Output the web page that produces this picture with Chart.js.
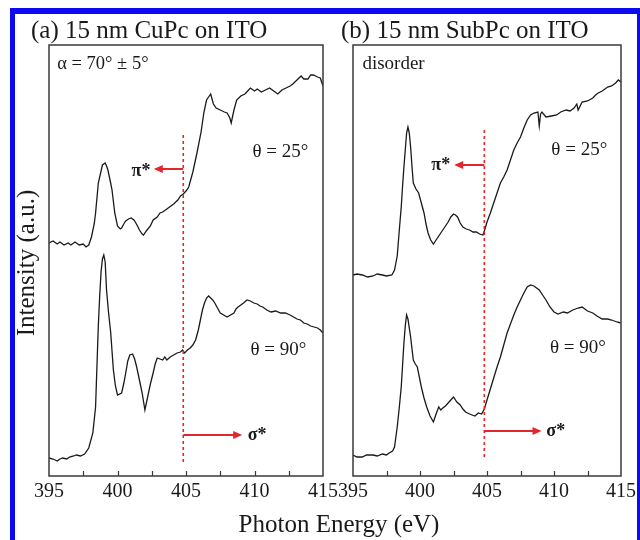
<!DOCTYPE html>
<html>
<head>
<meta charset="utf-8">
<script src="https://cdn.jsdelivr.net/npm/chart.js@4.4.1/dist/chart.umd.min.js"></script>
<style>
  body { margin: 0; background: #fff; }
  #frame {
    position: absolute; left: 10px; top: 8px; width: 622px; height: 540px;
    border-left: 5px solid #0b0bf2; border-top: 6px solid #0b0bf2; border-right: 3px solid #0b0bf2;
  }
  canvas { position: absolute; left: 0; top: 0; }
</style>
</head>
<body>
<div id="frame"></div>
<canvas id="chartA" width="640" height="540"></canvas>
<canvas id="chartB" width="640" height="540"></canvas>
<script>
// x axis (photon energy, eV)
const xTickValues = [395, 400, 405, 410, 415];
const minorStep = 2.5;
const edgeEnergy = 404.8;

// (a) CuPc, theta = 25 deg
const cupcE25 = [395.0,395.3,395.6,395.8,396.1,396.4,396.6,396.9,397.2,397.5,397.7,397.9,398.1,398.3,398.4,398.6,398.8,398.9,399.1,399.2,399.3,399.5,399.6,399.8,400.0,400.2,400.3,400.5,400.6,400.8,401.0,401.2,401.3,401.5,401.6,401.8,401.9,402.1,402.4,402.6,402.9,403.1,403.3,403.6,403.8,404.1,404.4,404.6,404.8,405.0,405.2,405.5,405.8,406.1,406.3,406.5,406.7,406.8,407.0,407.2,407.5,407.8,408.0,408.2,408.3,408.5,408.7,409.0,409.3,409.5,409.7,410.0,410.2,410.5,410.8,411.1,411.4,411.7,412.0,412.3,412.6,412.8,413.1,413.4,413.6,413.9,414.1,414.3,414.6,414.8,415.0];
const cupcI25 = [233,235,232,234,231,233,231,234,231,232,229,231,239,252,263,293,305,311,313,310,306,293,286,263,250,247,248,253,255,257,258,256,254,249,246,242,241,245,250,256,259,263,264,267,269,272,276,280,282,285,289,304,323,344,363,376,380,382,372,368,366,364,363,358,353,366,376,380,382,385,388,385,387,384,386,388,385,382,386,388,390,392,396,400,397,397,401,401,399,398,390];

// (a) CuPc, theta = 90 deg
const cupcE90 = [395.0,395.3,395.6,395.8,396.0,396.3,396.5,396.8,397.0,397.3,397.6,397.9,398.2,398.4,398.5,398.6,398.7,398.8,398.9,399.0,399.1,399.2,399.35,399.5,399.7,399.85,400.0,400.3,400.45,400.6,400.75,400.9,401.1,401.25,401.4,401.6,401.8,402.0,402.2,402.4,402.6,402.75,402.9,403.1,403.3,403.45,403.6,403.85,404.1,404.35,404.6,404.75,404.9,405.1,405.3,405.5,405.7,405.9,406.05,406.2,406.35,406.5,406.65,406.8,406.95,407.1,407.3,407.5,407.75,408.0,408.25,408.5,408.65,408.8,409.0,409.2,409.45,409.7,409.95,410.2,410.4,410.6,410.9,411.2,411.55,411.9,412.25,412.6,412.85,413.1,413.35,413.6,413.85,414.1,414.35,414.6,414.8,415.0];
const cupcI90 = [18,17,15,17,18,17,19,20,21,20,22,28,43,69,110,150,180,204,217,221,214,186,163,144,106,90,81,83,92,103,115,121,122,117,109,96,83,66,79,92,103,112,118,117,116,119,116,119,121,123,124,126,123,126,128,131,136,146,156,166,173,178,180,178,176,173,168,163,161,159,161,163,167,169,171,173,176,175,173,172,170,169,166,164,165,163,163,161,159,157,156,153,152,150,149,148,146,143];

// (b) SubPc, theta = 25 deg
const subpcE25 = [395.0,395.3,395.7,396.1,396.5,396.8,397.2,397.5,397.9,398.1,398.3,398.45,398.6,398.7,398.8,399.0,399.1,399.2,399.3,399.4,399.5,399.7,399.9,400.1,400.3,400.45,400.6,400.8,401.0,401.2,401.4,401.6,401.85,402.1,402.3,402.5,402.65,402.8,403.0,403.2,403.45,403.7,403.95,404.2,404.45,404.7,404.85,405.0,405.25,405.5,405.75,406.0,406.25,406.5,406.75,407.0,407.25,407.5,407.75,408.0,408.25,408.5,408.8,408.9,409.0,409.1,409.4,409.8,410.2,410.5,410.9,411.2,411.5,411.7,411.8,412.1,412.5,412.9,413.1,413.3,413.6,414.0,414.3,414.6,414.8,415.0];
const subpcI25 = [201,202,201,199,200,202,201,200,201,206,220,245,269,290,309,343,349,343,329,310,293,287,283,273,263,252,243,236,232,236,240,244,249,254,259,262,261,259,253,249,247,246,244,244,242,241,247,254,263,273,283,293,299,306,316,326,333,339,348,356,361,363,364,350,362,364,359,360,361,364,366,365,368,372,366,374,375,378,381,383,385,389,390,393,396,394];

// (b) SubPc, theta = 90 deg
const subpcE90 = [395.0,395.3,395.7,396.0,396.5,396.8,397.2,397.5,397.7,397.95,398.1,398.3,398.45,398.6,398.7,398.8,398.9,399.0,399.1,399.3,399.5,399.65,399.8,400.1,400.3,400.5,400.75,401.0,401.2,401.4,401.55,401.7,401.9,402.1,402.3,402.5,402.75,403.0,403.2,403.4,403.7,404.1,404.35,404.6,404.8,405.0,405.25,405.5,405.75,406.0,406.25,406.5,406.75,407.0,407.25,407.5,407.75,408.0,408.25,408.5,408.7,408.9,409.15,409.4,409.7,410.0,410.3,410.7,411.0,411.4,411.8,412.1,412.5,412.9,413.2,413.6,414.0,414.3,414.7,415.0];
const subpcI90 = [21,19,19,21,21,20,22,21,23,25,29,49,68,89,111,133,150,161,157,139,116,112,109,89,78,69,60,54,62,69,66,68,70,73,76,79,74,71,67,64,62,60,63,62,67,76,87,98,109,119,131,143,152,161,169,176,183,189,191,190,188,186,181,176,169,164,162,164,163,166,168,169,165,163,160,157,157,156,154,153];

const serif = '"Liberation Serif", "Times New Roman", serif';
const red = '#e3262b';

function series(xs, ys) {
  return xs.map((e, i) => ({ x: e, y: ys[i] }));
}

// decoration plugin: frame, inward ticks, edge line, arrows, labels
function decor(p) {
  return {
    id: 'decor',
    afterDatasetsDraw(chart) {
      const { ctx, chartArea: a, scales: { x, y } } = chart;
      ctx.save();

      // red dotted absorption-edge line
      const ex = x.getPixelForValue(edgeEnergy);
      ctx.strokeStyle = red;
      ctx.lineWidth = 1.6;
      ctx.setLineDash([3, 3]);
      ctx.beginPath();
      ctx.moveTo(ex, y.getPixelForValue(p.edgeTop));
      ctx.lineTo(ex, y.getPixelForValue(p.edgeBottom));
      ctx.stroke();
      ctx.setLineDash([]);

      // arrows
      p.arrows.forEach(ar => {
        const x0 = x.getPixelForValue(edgeEnergy);
        const x1 = x.getPixelForValue(ar.to);
        const yy = y.getPixelForValue(ar.y);
        const dir = Math.sign(x1 - x0);
        ctx.strokeStyle = red;
        ctx.fillStyle = red;
        ctx.lineWidth = 2;
        ctx.beginPath();
        ctx.moveTo(x0, yy);
        ctx.lineTo(x1 - dir * 7, yy);
        ctx.stroke();
        ctx.beginPath();
        ctx.moveTo(x1, yy);
        ctx.lineTo(x1 - dir * 9, yy - 4);
        ctx.lineTo(x1 - dir * 9, yy + 4);
        ctx.closePath();
        ctx.fill();
      });

      // frame
      ctx.strokeStyle = '#3a3a3a';
      ctx.lineWidth = 1.5;
      ctx.strokeRect(a.left, a.top, a.right - a.left, a.bottom - a.top);

      // inward ticks on the bottom axis
      ctx.lineWidth = 1.2;
      for (let v = x.min + minorStep; v < x.max; v += minorStep) {
        const px = Math.round(x.getPixelForValue(v)) + 0.5;
        ctx.beginPath();
        ctx.moveTo(px, a.bottom);
        ctx.lineTo(px, a.bottom - 5);
        ctx.stroke();
      }

      // labels inside the panel
      ctx.fillStyle = '#1a1a1a';
      ctx.textBaseline = 'middle';
      p.notes.forEach(n => {
        ctx.font = n.font + ' ' + serif;
        ctx.textAlign = n.align || 'left';
        ctx.fillText(n.text, x.getPixelForValue(n.x), y.getPixelForValue(n.y));
      });

      // panel title and shared axis titles
      ctx.font = '25px ' + serif;
      ctx.textAlign = 'left';
      ctx.fillText(p.title, p.titleX, 31);
      if (p.axisTitles) {
        ctx.textAlign = 'center';
        ctx.fillText('Photon Energy (eV)', 339, 525);
        ctx.translate(27, 263);
        ctx.rotate(-Math.PI / 2);
        ctx.fillText('Intensity (a.u.)', 0, 0);
      }
      ctx.restore();
    }
  };
}

function makeChart(id, sets, p, padLeft, padRight) {
  return new Chart(document.getElementById(id), {
    type: 'line',
    data: {
      datasets: sets.map(s => ({
        data: s,
        borderColor: '#1a1a1a',
        borderWidth: 1.3,
        pointRadius: 0,
        tension: 0,
        fill: false
      }))
    },
    options: {
      responsive: false,
      animation: false,
      events: [],
      layout: { padding: { left: padLeft, right: padRight, top: 45, bottom: 34 } },
      plugins: { legend: { display: false }, tooltip: { enabled: false } },
      scales: {
        x: {
          type: 'linear',
          min: 395,
          max: 415,
          afterBuildTicks: s => { s.ticks = xTickValues.map(v => ({ value: v })); },
          afterFit: s => { s.height = 30; },
          grid: { display: false, drawTicks: false },
          border: { display: false },
          ticks: {
            autoSkip: false,
            maxRotation: 0,
            padding: 4,
            color: '#1a1a1a',
            font: { family: serif, size: 20 }
          }
        },
        y: { display: false, min: 0, max: 431 }
      }
    },
    plugins: [decor(p)]
  });
}

makeChart('chartA', [series(cupcE25, cupcI25), series(cupcE90, cupcI90)], {
  title: '(a) 15 nm CuPc on ITO',
  titleX: 31,
  axisTitles: true,
  edgeTop: 341,
  edgeBottom: 11,
  arrows: [{ to: 402.65, y: 307 }, { to: 409.1, y: 41 }],
  notes: [
    { text: 'α = 70° ± 5°', x: 395.6, y: 412, font: '18.5px' },
    { text: 'θ = 25°', x: 409.85, y: 324, font: '19px' },
    { text: 'θ = 90°', x: 409.7, y: 126, font: '19px' },
    { text: 'π*', x: 402.4, y: 305, font: 'bold 18px', align: 'right' },
    { text: 'σ*', x: 409.5, y: 41, font: 'bold 18px' }
  ]
}, 49, 317);

makeChart('chartB', [series(subpcE25, subpcI25), series(subpcE90, subpcI90)], {
  title: '(b) 15 nm SubPc on ITO',
  titleX: 341,
  axisTitles: false,
  edgeTop: 346,
  edgeBottom: 16,
  arrows: [{ to: 402.55, y: 311 }, { to: 409.07, y: 45 }],
  notes: [
    { text: 'disorder', x: 395.7, y: 412, font: '19px' },
    { text: 'θ = 25°', x: 409.8, y: 326, font: '19px' },
    { text: 'θ = 90°', x: 409.7, y: 128, font: '19px' },
    { text: 'π*', x: 402.25, y: 311, font: 'bold 18px', align: 'right' },
    { text: 'σ*', x: 409.43, y: 45, font: 'bold 18px' }
  ]
}, 353, 14);
</script>
</body>
</html>
